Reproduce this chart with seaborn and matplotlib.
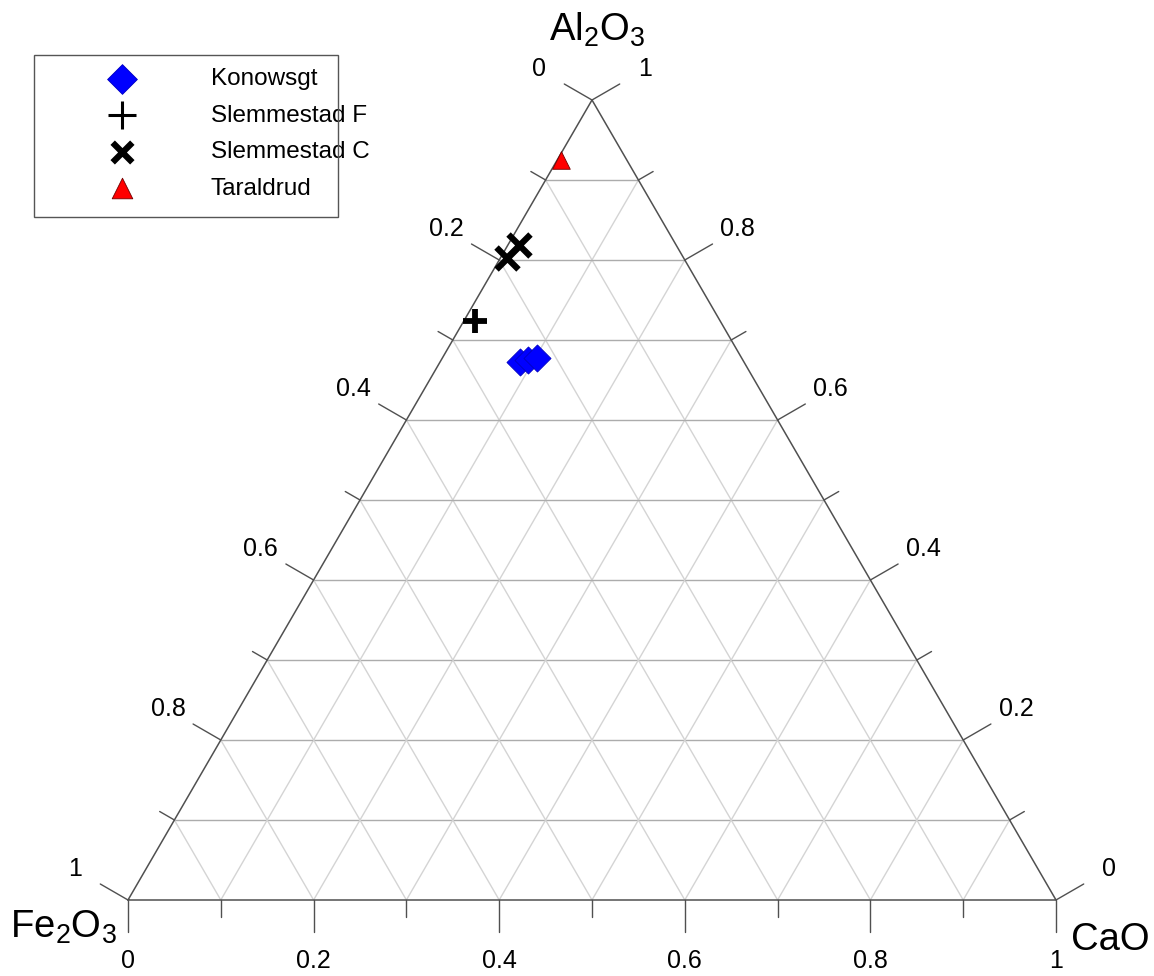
import numpy as np
import pandas as pd
import matplotlib
matplotlib.use("Agg")
import matplotlib.pyplot as plt
from matplotlib.patches import Rectangle
import seaborn as sns

# ---------------- data (fractions: Al2O3, CaO; Fe2O3 = 1 - Al2O3 - CaO) ----------------
konowsgt_al = [0.672, 0.675, 0.678]
konowsgt_ca = [0.086, 0.094, 0.102]
slem_f_al = [0.724]
slem_f_ca = [0.012]
slem_c_al = [0.819, 0.803]
slem_c_ca = [0.012, 0.007]
taraldrud_al = [0.925]
taraldrud_ca = [0.004]

tick_values = [0.0, 0.2, 0.4, 0.6, 0.8, 1.0]
tick_labels = ["0", "0.2", "0.4", "0.6", "0.8", "1"]
minor_values = [0.1, 0.3, 0.5, 0.7, 0.9]
grid_values = [0.1, 0.2, 0.3, 0.4, 0.5, 0.6, 0.7, 0.8, 0.9]

# ---------------- style ----------------
sns.set_theme(style="white")
plt.rcParams["font.family"] = ["Liberation Sans", "DejaVu Sans"]
plt.rcParams["mathtext.fontset"] = "custom"
plt.rcParams["mathtext.rm"] = "Liberation Sans"
plt.rcParams["mathtext.it"] = "Liberation Sans:italic"
plt.rcParams["mathtext.default"] = "regular"
plt.rcParams["text.color"] = "black"

W, H = 1154, 976
fig = plt.figure(figsize=(W / 100, H / 100), dpi=100)
ax = fig.add_axes([0, 0, 1, 1])
SX, SY = 928.0, 800.0      # pixel size of triangle base / height
X0, Y0 = 128.0, 900.0      # pixel of Fe2O3 vertex
ax.set_xlim(-X0 / SX, (W - X0) / SX)
ax.set_ylim((Y0 - H) / SY, Y0 / SY)
ax.axis("off")


def tern(al, ca):
    al = np.asarray(al, float)
    ca = np.asarray(ca, float)
    return ca + al / 2.0, al


def off(dx_px, dy_px):
    """pixel offset (y down) -> data offset"""
    return dx_px / SX, -dy_px / SY


# ---------------- grid ----------------
for v in grid_values:
    ax.plot([v / 2, 1 - v / 2], [v, v], color="#acacac", lw=1.0, zorder=1)
    ax.plot([v, v + (1 - v) / 2], [0, 1 - v], color="#d4d4d4", lw=1.0, zorder=1)
    ax.plot([1 - v, (1 - v) / 2], [0, 1 - v], color="#d4d4d4", lw=1.0, zorder=1)

# ---------------- triangle edges ----------------
edge_c = "#505050"
ax.plot([0, 1, 0.5, 0], [0, 0, 1, 0], color=edge_c, lw=1.1, zorder=2,
        solid_joinstyle="miter")

# ---------------- ticks & tick labels ----------------
d_bot = (0.0, 1.0)
d_right = (0.866, -0.5)
d_left = (-0.866, -0.5)
MAJ, MIN, LAB = 32, 17, 61
tick_fs = 18


def draw_tick(p, d, length):
    dx, dy = off(d[0] * length, d[1] * length)
    ax.plot([p[0], p[0] + dx], [p[1], p[1] + dy], color=edge_c, lw=1.0, zorder=2)


for vals, length in ((tick_values, MAJ), (minor_values, MIN)):
    for v in vals:
        draw_tick((v, 0.0), d_bot, length)
        draw_tick((1 - v / 2, v), d_right, length)
        draw_tick(((1 - v) / 2, 1 - v), d_left, length)

for v, lab in zip(tick_values, tick_labels):
    dx, dy = off(0, LAB)
    ax.text(v + dx, 0 + dy, lab, ha="center", va="center", fontsize=tick_fs, color="black")
    dx, dy = off(d_right[0] * LAB, d_right[1] * LAB)
    ax.text(1 - v / 2 + dx, v + dy, lab, ha="center", va="center", fontsize=tick_fs, color="black")
    dx, dy = off(d_left[0] * LAB, d_left[1] * LAB)
    ax.text((1 - v) / 2 + dx, 1 - v + dy, lab, ha="center", va="center", fontsize=tick_fs, color="black")

# ---------------- vertex labels ----------------
ax.text((597 - X0) / SX, (Y0 - 41) / SY, r"Al$_2$O$_3$", ha="center", va="baseline",
        fontsize=27.5, color="black")
ax.text((63 - X0) / SX, (Y0 - 938) / SY, r"Fe$_2$O$_3$", ha="center", va="baseline",
        fontsize=27.5, color="black")
ax.text((1110 - X0) / SX, (Y0 - 950) / SY, "CaO", ha="center", va="baseline",
        fontsize=27.5, color="black")

# ---------------- data points ----------------
def frame(al, ca):
    x, y = tern(al, ca)
    return pd.DataFrame({"x": x, "y": y})

sns.scatterplot(data=frame(konowsgt_al, konowsgt_ca), x="x", y="y", ax=ax, marker="D",
                s=190, color="#0000ff", edgecolor="#0000c0", linewidth=0.6,
                label="Konowsgt", zorder=5)
sns.scatterplot(data=frame(slem_f_al, slem_f_ca), x="x", y="y", ax=ax, marker="+",
                s=320, color="black", linewidth=4.2, label="Slemmestad F", zorder=5)
sns.scatterplot(data=frame(slem_c_al, slem_c_ca), x="x", y="y", ax=ax, marker="x",
                s=250, color="black", linewidth=4.5, label="Slemmestad C", zorder=5)
sns.scatterplot(data=frame(taraldrud_al, taraldrud_ca), x="x", y="y", ax=ax, marker="^",
                s=160, color="#ff0000", edgecolor="#700000", linewidth=0.6,
                label="Taraldrud", zorder=5)
ax.set_xlim(-X0 / SX, (W - X0) / SX)
ax.set_ylim((Y0 - H) / SY, Y0 / SY)

# ---------------- legend ----------------
handles, labels = ax.get_legend_handles_labels()
leg = ax.legend(handles, labels, loc="upper left",
                bbox_to_anchor=(60 / W, 1 - 68 / H), bbox_transform=fig.transFigure,
                frameon=False, borderpad=0, borderaxespad=0, fontsize=17.5,
                handlelength=5.1, handletextpad=1.1, labelspacing=0.6)
lh = leg.legend_handles
lh[0].set_sizes([230])
lh[1].set_sizes([420])
lh[1].set_linewidth(2.2)
lh[2].set_sizes([200])
lh[2].set_linewidth(4.5)
lh[3].set_sizes([220])
for t in leg.get_texts():
    t.set_color("black")
fig.patches.append(Rectangle((34 / W, 1 - 217 / H), 304 / W, 162 / H,
                             transform=fig.transFigure, fill=False,
                             edgecolor="#555555", lw=1.0, zorder=10))

fig.savefig("out.png", dpi=100)
